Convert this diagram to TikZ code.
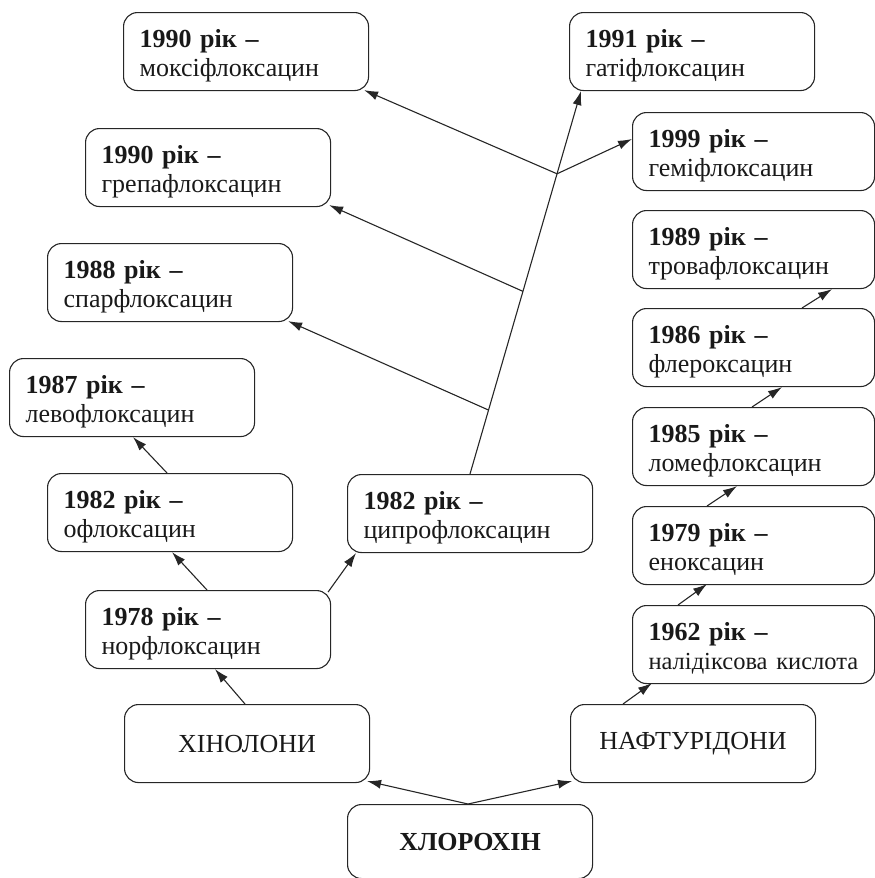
\documentclass[tikz,border=0pt]{standalone}
\usepackage{fontspec}
\setmainfont{Liberation Serif}
\usetikzlibrary{arrows.meta,calc}
\newcommand{\yr}[1]{\rule{0pt}{26pt}\textbf{#1 рік –}}
\begin{document}
\begin{tikzpicture}[x=1pt,y=-1pt,
  box/.style={draw=black!85, line width=1.1pt, rounded corners=14pt,
    inner xsep=16pt, inner ysep=0pt, text width=213pt, minimum height=78pt,
    align=left, anchor=north west, text=black!90,
    font=\fontsize{26}{28.5}\selectfont},
  rbox/.style={box, text width=210pt},
  tbox/.style={box, align=center},
  arr/.style={draw=black!85, line width=1.1pt, -{Latex[length=14pt,width=9pt]}}]
\useasboundingbox (0,0) rectangle (875,878);

% left / middle column
\node[box] (moxi)   at (123,12)  {\yr{1990}\\моксіфлоксацин};
\node[box] (grepa)  at (85,128)  {\yr{1990}\\грепафлоксацин};
\node[box] (spar)   at (47,243)  {\yr{1988}\\спарфлоксацин};
\node[box] (levo)   at (9,358)   {\yr{1987}\\левофлоксацин};
\node[box] (oflo)   at (47,473)  {\yr{1982}\\офлоксацин};
\node[box] (cipro)  at (347,474) {\yr{1982}\\ципрофлоксацин};
\node[box] (norflo) at (85,590)  {\yr{1978}\\норфлоксацин};
\node[tbox] (hin)   at (124,704) {ХІНОЛОНИ};
\node[tbox, minimum height=74pt] (chlor) at (347,804) {\textbf{ХЛОРОХІН}};

% right column
\node[box] (gati)   at (569,12)  {\yr{1991}\\гатіфлоксацин};
\node[rbox] (gemi)  at (632,112) {\yr{1999}\\геміфлоксацин};
\node[rbox] (trova) at (632,210) {\yr{1989}\\тровафлоксацин};
\node[rbox] (flero) at (632,308) {\yr{1986}\\флероксацин};
\node[rbox] (lome)  at (632,407) {\yr{1985}\\ломефлоксацин};
\node[rbox] (eno)   at (632,506) {\yr{1979}\\еноксацин};
\node[rbox] (nalid) at (632,605) {\yr{1962}\\{\fontsize{24.5}{28.5}\selectfont налідіксова кислота}};
\node[tbox] (naft)  at (570,704) {НАФТУРІДОНИ};

% connectors from ХЛОРОХІН
\coordinate (ctop) at ([xshift=121pt]chlor.north west);
\draw[arr] (ctop) -- ([xshift=-3pt,yshift=2pt]hin.south east);
\draw[arr] (ctop) -- ([xshift=2pt,yshift=2pt]naft.south west);

% quinolone branch
\draw[arr] ([xshift=121pt]hin.north west) -- ([xshift=130pt]norflo.south west);
\draw[arr] ([xshift=122pt]norflo.north west) -- ([xshift=125pt]oflo.south west);
\draw[arr] ([xshift=-3pt,yshift=-2pt]norflo.north east) -- ([xshift=9pt]cipro.south west);
\draw[arr] ([xshift=120pt]oflo.north west) -- ([xshift=124pt]levo.south west);

% ciprofloxacin trunk
\coordinate (cb) at ([xshift=123pt]cipro.north west);
\coordinate (gb) at ([xshift=12pt]gati.south west);
\coordinate (j1) at ($(cb)!0.167!(gb)$);
\coordinate (j2) at ($(cb)!0.477!(gb)$);
\coordinate (j3) at ($(cb)!0.784!(gb)$);
\draw[arr] (cb) -- (gb);
\draw[arr] (j1) -- ([xshift=-5pt,yshift=1pt]spar.south east);
\draw[arr] (j2) -- ([xshift=-2pt,yshift=2pt]grepa.south east);
\draw[arr] (j3) -- ([xshift=-5pt,yshift=1pt]moxi.south east);
\draw[arr] (j3) -- ([yshift=-27pt]gemi.north west);

% naphthyridone branch
\draw[arr] ([xshift=53pt]naft.north west) -- ([xshift=20pt,yshift=1pt]nalid.south west);
\draw[arr] ([xshift=46pt]nalid.north west) -- ([xshift=75pt,yshift=1pt]eno.south west);
\draw[arr] ([xshift=75pt]eno.north west) -- ([xshift=105pt]lome.south west);
\draw[arr] ([xshift=120pt]lome.north west) -- ([xshift=150pt]flero.south west);
\draw[arr] ([xshift=170pt]flero.north west) -- ([xshift=200pt]trova.south west);
\end{tikzpicture}
\end{document}
